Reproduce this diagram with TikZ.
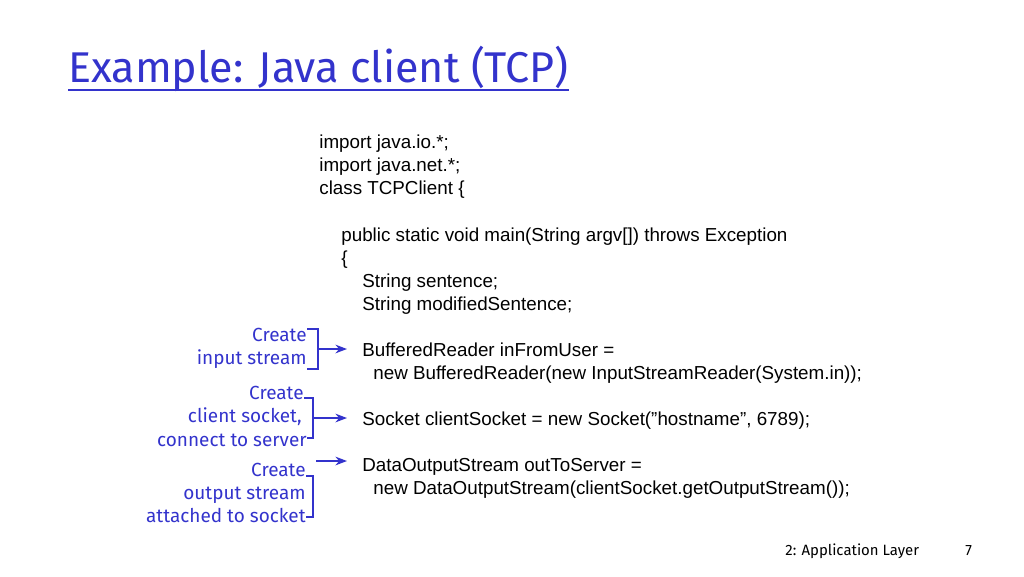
\documentclass[tikz,border=0pt]{standalone}
\usepackage{fontspec}
\setmainfont{Liberation Sans}
\newfontfamily\notefont{Fira Sans}
\usetikzlibrary{positioning, arrows.meta}
\definecolor{noteblue}{RGB}{51,51,204}
\tikzset{
  code/.style={anchor=base west, inner sep=0pt, font=\fontsize{10.7}{12}\selectfont},
  note/.style={anchor=base east, inner sep=0pt, text=noteblue, font=\notefont\fontsize{10.8}{12}\selectfont},
  brace/.style={noteblue, thick},
}
\begin{document}
\begin{tikzpicture}[>=Stealth, x=0.02cm, y=-0.02cm]
  \useasboundingbox (0,0) rectangle (1024,576);

  % Title
  \node[anchor=base west, inner sep=0pt, text=noteblue, font=\notefont\fontsize{24.5}{28}\selectfont] (title) at (68,82) {Example: Java client (TCP)};
  \draw[noteblue, thick] (68,90) -- (title.east |- 0,90);

  % Code
  \node[code] (l1) at (319,148) {import java.io.*;};
  \node[code] (l2) at (319,171) {import java.net.*;};
  \node[code] (l3) at (319,194) {class TCPClient \{};
  \node[code] (l4) at (341,241) {public static void main(String argv[]) throws Exception};
  \node[code] (l5) at (341,264) {\{};
  \node[code] (l6) at (362,287) {String sentence;};
  \node[code] (l7) at (362,310) {String modifiedSentence;};
  \node[code] (reader) at (362,356) {BufferedReader inFromUser =};
  \node[code] (reader2) at (373,379) {new BufferedReader(new InputStreamReader(System.in));};
  \node[code] (socket) at (362,425) {Socket clientSocket = new Socket(\char"22 hostname\char"22, 6789);};
  \node[code] (out) at (362,471) {DataOutputStream outToServer =};
  \node[code] (out2) at (373,494) {new DataOutputStream(clientSocket.getOutputStream());};

  % Notes
  \node[note] (n1a) at (307,341) {Create};
  \node[note] (n1b) at (307,364) {input stream};
  \node[note] (n2a) at (304,399) {Create};
  \node[note] (n2b) at (302,422) {client socket,};
  \node[note] (n2c) at (307,446) {connect to server};
  \node[note] (n3a) at (306,476) {Create};
  \node[note] (n3b) at (306,499) {output stream};
  \node[note] (n3c) at (306,522) {attached to socket};

  % Brackets
  \coordinate (b1t) at (318,329);
  \coordinate (b1b) at (318,369);
  \draw[brace] (n1a.east |- b1t) -- (b1t) -- (b1b) -- (n1b.east |- b1b);
  \draw[brace, ->] (318,349) -- (347,349);
  \coordinate (b2t) at (313,398);
  \coordinate (b2b) at (313,438);
  \draw[brace] (n2a.east |- b2t) -- (b2t) -- (b2b) -- (n2c.east |- b2b);
  \draw[brace, ->] (313,418) -- (347,418);
  \coordinate (b3t) at (313,476);
  \coordinate (b3b) at (313,517);
  \draw[brace] (n3a.east |- b3t) -- (b3t) -- (b3b) -- (n3c.east |- b3b);
  \draw[brace, ->] (316,461) -- (347,461);

  % Footer
  \node[anchor=base west, inner sep=0pt, font=\notefont\fontsize{8.5}{10}\selectfont] (footer) at (785,555) {2: Application Layer};
  \node[anchor=base west, inner sep=0pt, font=\notefont\fontsize{8.5}{10}\selectfont] (page) at (965,555) {7};
\end{tikzpicture}
\end{document}
